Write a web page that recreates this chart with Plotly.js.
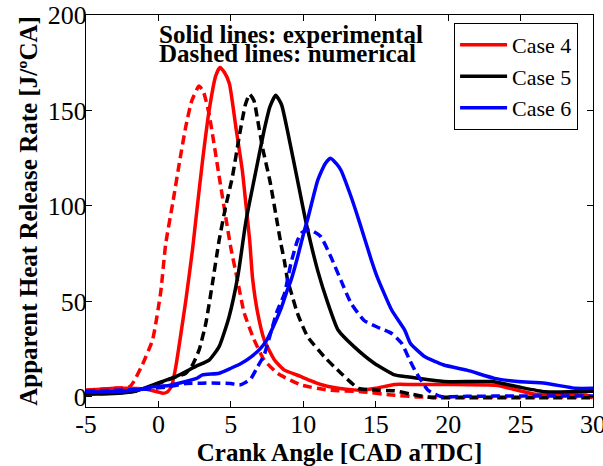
<!DOCTYPE html>
<html>
<head>
<meta charset="utf-8">
<script src="https://cdn.plot.ly/plotly-3.0.1.min.js"></script>
<style>
html,body{margin:0;padding:0;background:#fff;}
#chart{width:603px;height:466px;}
#chart .xtick text, #chart .ytick text, #chart .legendtext {
  font-family: "Liberation Serif", "Times New Roman", serif !important;
}
</style>
</head>
<body>
<div id="chart"></div>
<script>
// Case 4 experimental (red solid)
var case4ExpX = [-5, -4, -3, -2, -1.2, -0.5, 0, 0.3, 0.6, 0.9, 1.2, 1.55, 1.9, 2.35, 2.6, 3.05, 3.5, 3.95, 4.25, 4.55, 4.9, 5.35, 5.8, 6.05, 6.3, 6.5, 6.85, 7.3, 8.0, 8.7, 9.8, 10.5, 11.2, 12.2, 13.3, 14.0, 15.0, 16.3, 17.5, 20, 23.4, 24.5, 25.9, 27, 29.5, 30];
var case4ExpY = [3.5, 4, 4.5, 4.5, 4.2, 3.5, 2.5, 1.9, 2.5, 5.5, 15.8, 33, 51, 77, 94, 124, 150, 168, 172.5, 170, 164, 141, 118, 100, 82, 62, 44, 30, 19.5, 14, 10.8, 8.5, 6.5, 4.8, 3.8, 3.5, 4.5, 6.5, 6.5, 6.5, 6, 4, 1.5, 1, 1, -0.5];
// Case 4 numerical (red dashed)
var case4NumX = [-5, -4, -3, -2, -1.7, -1.1, -0.4, 0.16, 0.5, 1.0, 1.5, 1.9, 2.3, 2.8, 3.1, 3.5, 4.2, 4.65, 5.0, 5.46, 5.92, 6.6, 7.3, 8.23, 9.85, 11.7, 14, 16.1, 18, 22, 26, 30];
var case4NumY = [3.5, 4, 4.5, 5.3, 8, 17, 30, 55, 80, 102, 125, 142, 155, 162.8, 160, 148, 115, 94, 78, 61, 44, 30, 19.3, 12.3, 6.2, 3.6, 2.7, 1, 0, 0, 0, 0];
// Case 5 experimental (black solid)
var case5ExpX = [-5, -3.9, -2.5, -1.57, -0.41, 0.04, 1.2, 2.58, 3.5, 4.19, 4.88, 5.5, 6.04, 6.6, 7.3, 7.7, 8.1, 8.5, 8.9, 9.6, 10.2, 11, 11.7, 12.4, 13.5, 14.9, 16.3, 17.2, 19.7, 23, 24.8, 26.7, 30];
var case5ExpY = [1.5, 1.5, 2, 3, 6.2, 7.5, 10.6, 16, 19.3, 26.3, 42, 64, 92, 113.5, 139.7, 152, 158, 153, 139.7, 113.5, 91, 66, 49, 35, 26.3, 17.6, 11.5, 10.5, 8, 8, 5.3, 2.7, 3];
// Case 5 numerical (black dashed)
var case5NumX = [-5, -3, -1.5, 0, 1.2, 1.89, 2.35, 2.81, 3.27, 3.73, 4.19, 4.65, 5.1, 5.57, 6.0, 6.3, 6.6, 6.85, 7.2, 7.7, 8.23, 8.46, 8.7, 8.92, 9.15, 9.6, 10.3, 11.45, 12.6, 13.8, 14.9, 16.3, 17.4, 18.8, 22, 26, 30];
var case5NumY = [1.5, 2, 3, 7, 10.5, 12.4, 16.7, 24.6, 38.5, 59.5, 82, 100, 115, 136, 153, 158.5, 155, 145, 130, 113, 90, 80, 71, 61, 55, 43.7, 31.5, 21, 12.4, 4.5, 3.6, 3.2, 1.5, -0.3, -0.5, -0.5, -0.5];
// Case 6 experimental (blue solid)
var case6ExpX = [-5, -4.3, -1.57, -0.41, 0.73, 2.58, 3.04, 4.2, 5.0, 5.7, 6.4, 7.0, 7.5, 8.0, 8.5, 8.9, 9.15, 9.6, 10.07, 10.3, 11, 11.5, 11.87, 12.3, 12.6, 13.3, 13.9, 14.7, 15.1, 16.1, 17, 17.4, 18.4, 19.7, 21.3, 23.2, 24.8, 26.7, 28.8, 30];
var case6ExpY = [2.5, 2.5, 3.5, 5.3, 6, 9.5, 11.5, 12.4, 15, 17.5, 21, 25, 30, 38, 47, 56, 61, 73, 87, 93, 113.5, 122, 125, 122, 118.7, 104.8, 91, 71.6, 62.9, 45.5, 35, 28, 21, 16.7, 14, 9.7, 8, 7.1, 4.5, 4.5];
// Case 6 numerical (blue dashed)
var case6NumX = [-5, -3, -1, 0.7, 1.9, 3.0, 4.2, 5.0, 5.6, 6.0, 6.38, 6.85, 7.3, 7.77, 8.2, 8.7, 9.15, 9.6, 9.9, 10.5, 11.2, 11.9, 12.6, 13.3, 14.2, 15.1, 16.1, 16.8, 17.3, 17.7, 18.6, 19.5, 21.3, 25, 30];
var case6NumY = [3, 3.5, 4, 5.3, 7, 7.2, 7.2, 7, 6.2, 7.5, 9.5, 15.8, 22, 34, 45, 54, 70, 82, 86, 87.4, 84, 73.4, 61, 49, 40, 36.6, 33.2, 28, 20, 14, 3.6, 0.2, 0.3, 0.5, 0.5];

var caseNames = ['Case 4', 'Case 5', 'Case 6'];
var caseColors = ['#ff0000', '#000000', '#0000ff'];
var xTickVals = [-5, 0, 5, 10, 15, 20, 25, 30];
var xTickText = ['-5', '0', '5', '10', '15', '20', '25', '30'];
var yTickVals = [0, 50, 100, 150, 200];
var yTickText = ['0', '50', '100', '150', '200'];

var LW = 3.5;
var DASH = '9px,5px';

function lineStyle(c, dash) {
  var l = {color: c, width: LW, shape: 'spline', smoothing: 0.5};
  if (dash) l.dash = DASH;
  return l;
}

var traces = [
  {x: case4ExpX, y: case4ExpY, name: caseNames[0], mode: 'lines', line: lineStyle(caseColors[0], false), showlegend: true},
  {x: case4NumX, y: case4NumY, name: caseNames[0] + ' num', mode: 'lines', line: lineStyle(caseColors[0], true), showlegend: false},
  {x: case5ExpX, y: case5ExpY, name: caseNames[1], mode: 'lines', line: lineStyle(caseColors[1], false), showlegend: true},
  {x: case5NumX, y: case5NumY, name: caseNames[1] + ' num', mode: 'lines', line: lineStyle(caseColors[1], true), showlegend: false},
  {x: case6ExpX, y: case6ExpY, name: caseNames[2], mode: 'lines', line: lineStyle(caseColors[2], false), showlegend: true},
  {x: case6NumX, y: case6NumY, name: caseNames[2] + ' num', mode: 'lines', line: lineStyle(caseColors[2], true), showlegend: false}
];

var FONT = 'Liberation Serif';

var layout = {
  width: 603, height: 466,
  margin: {l: 86, r: 10, t: 15, b: 59, pad: 0},
  paper_bgcolor: '#fff', plot_bgcolor: '#fff',
  font: {family: FONT, color: '#000', size: 25},
  showlegend: true,
  legend: {
    x: 0.726, y: 0.98, xanchor: 'left', yanchor: 'top',
    bgcolor: '#fff', bordercolor: '#000', borderwidth: 1,
    font: {family: FONT, size: 22, color: '#000'},
    itemwidth: 47, tracegroupgap: 0
  },
  xaxis: {
    range: [-5, 30], tickvals: xTickVals, ticktext: xTickText,
    ticks: 'inside', ticklen: 6, tickcolor: '#000', tickwidth: 1,
    ticklabeloverflow: 'allow', ticklabelstandoff: -6,
    showline: true, linecolor: '#000', linewidth: 1, mirror: 'ticks',
    showgrid: false, zeroline: false,
    tickfont: {family: FONT, size: 26, color: '#000'},
    title: {text: 'Crank Angle [CAD aTDC]', font: {family: FONT, size: 25, color: '#000', weight: 'bold'}, standoff: 4}
  },
  yaxis: {
    range: [-5.3, 200], tickvals: yTickVals, ticktext: yTickText,
    ticks: 'inside', ticklen: 6, tickcolor: '#000', tickwidth: 1,
    ticklabeloverflow: 'allow', ticklabelstandoff: -7,
    showline: true, linecolor: '#000', linewidth: 1, mirror: 'ticks',
    showgrid: false, zeroline: false,
    tickfont: {family: FONT, size: 26, color: '#000'},
    title: {text: 'Apparent Heat Release Rate [J/ºCA]', font: {family: FONT, size: 25, color: '#000', weight: 'bold'}, standoff: 3}
  },
  annotations: [
    {xref: 'x', yref: 'paper', x: -0.1, y: 0.951, xanchor: 'left', yanchor: 'middle', showarrow: false,
     text: 'Solid lines: experimental', font: {family: FONT, size: 25, color: '#000', weight: 'bold'}},
    {xref: 'x', yref: 'paper', x: -0.1, y: 0.903, xanchor: 'left', yanchor: 'middle', showarrow: false,
     text: 'Dashed lines: numerical', font: {family: FONT, size: 25, color: '#000', weight: 'bold'}}
  ]
};

Plotly.newPlot('chart', traces, layout, {displayModeBar: false, staticPlot: true});
</script>
</body>
</html>
